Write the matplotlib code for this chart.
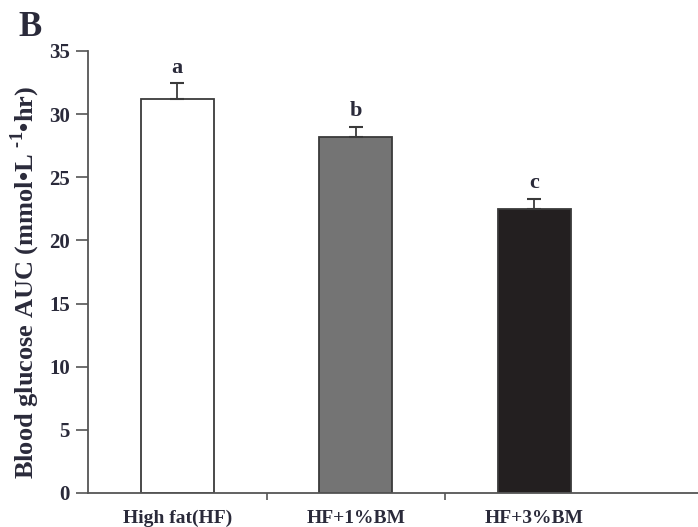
import matplotlib.pyplot as plt

groups = ["High fat(HF)", "HF+1%BM", "HF+3%BM"]
auc = [31.2, 28.2, 22.5]
sem = [1.25, 0.8, 0.8]
letters = ["a", "b", "c"]
colors = ["white", "#747474", "#231f20"]

plt.rcParams['font.family'] = ['Liberation Serif', 'DejaVu Serif']
plt.rcParams['font.weight'] = 'bold'
plt.rcParams['mathtext.fontset'] = 'custom'
plt.rcParams['mathtext.bf'] = 'Liberation Serif:bold'
plt.rcParams['mathtext.rm'] = 'Liberation Serif:bold'

fig = plt.figure(figsize=(6.98, 5.27), dpi=100)
ax = fig.add_axes([88/698, 34/527, 610/698, 442/527])

x = range(len(groups))
ax.bar(x, auc, width=0.41, color=colors, edgecolor="#3a3a3a", linewidth=1.3, zorder=2)
ax.errorbar(x, auc, yerr=[[0]*3, sem], fmt="none", ecolor="#3a3a3a",
            elinewidth=1.3, capsize=5, capthick=1.5, zorder=3)
for i in x:
    ax.text(i, auc[i] + sem[i] + 0.45, letters[i], ha="center", va="bottom",
            fontsize=16, fontweight="bold", color="#2a2a3a")

ax.set_xlim(-0.5, 2.917)
ax.set_ylim(0, 35)
ax.set_yticks(range(0, 36, 5))
ax.set_xticks(list(x))
ax.set_xticklabels(groups)
ax.set_xticks([0.5, 1.5], minor=True)
ax.tick_params(axis="x", which="major", length=0, pad=12, labelsize=14)
ax.tick_params(axis="x", which="minor", length=5, width=1.2, color="#555555")
ax.tick_params(axis="y", length=9, width=1.2, color="#555555", labelsize=15, pad=4)
for lab in ax.get_xticklabels() + ax.get_yticklabels():
    lab.set_fontweight("bold")
    lab.set_color("#2a2a3a")

for s in ["top", "right"]:
    ax.spines[s].set_visible(False)
for s in ["left", "bottom"]:
    ax.spines[s].set_color("#555555")
    ax.spines[s].set_linewidth(1.3)

ax.set_ylabel("Blood glucose AUC (mmol\u2022L $^{\\text{-1}}$\u2022hr)", fontsize=19,
              fontweight="bold", color="#2a2a3a")
ax.yaxis.set_label_coords(-0.076, 0.477)
fig.text(18/698, 1 - 27/527, "B", fontsize=25, fontweight="bold", color="#2a2a3a",
         ha="left", va="center")

fig.savefig("out.png", dpi=100)
